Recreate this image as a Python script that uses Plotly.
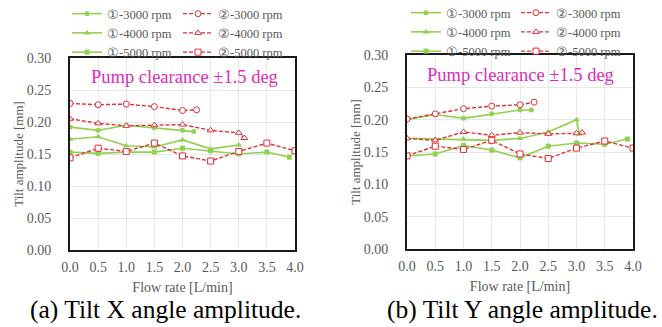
import plotly.graph_objects as go

# ---------------- data ----------------
flow_full = [0.0, 0.5, 1.0, 1.5, 2.0, 2.5, 3.0, 3.5, 4.0]
x_tick_labels = ["0.0", "0.5", "1.0", "1.5", "2.0", "2.5", "3.0", "3.5", "4.0"]
y_tick_vals = [0.00, 0.05, 0.10, 0.15, 0.20, 0.25, 0.30]
y_tick_labels = ["0.00", "0.05", "0.10", "0.15", "0.20", "0.25", "0.30"]

# (a) Tilt X
xa_g3000_flow = [0.0, 0.5, 1.0, 1.5, 2.0, 2.2]
xa_g3000 = [0.192, 0.187, 0.195, 0.191, 0.187, 0.185]
xa_g4000_flow = [0.0, 0.5, 1.0, 1.5, 2.0, 2.5, 3.0]
xa_g4000 = [0.173, 0.177, 0.163, 0.161, 0.172, 0.158, 0.164]
xa_g5000_flow = [0.0, 0.5, 1.0, 1.5, 2.0, 2.5, 3.0, 3.5, 3.9]
xa_g5000 = [0.153, 0.151, 0.153, 0.153, 0.159, 0.155, 0.150, 0.153, 0.145]
xa_r3000_flow = [0.0, 0.5, 1.0, 1.5, 2.0, 2.25]
xa_r3000 = [0.229, 0.227, 0.228, 0.224, 0.218, 0.219]
xa_r4000_flow = [0.0, 0.5, 1.0, 1.5, 2.0, 2.5, 3.0, 3.1]
xa_r4000 = [0.205, 0.198, 0.194, 0.195, 0.196, 0.187, 0.183, 0.175]
xa_r5000_flow = flow_full
xa_r5000 = [0.144, 0.159, 0.154, 0.167, 0.147, 0.139, 0.154, 0.167, 0.155]

# (b) Tilt Y
yb_g3000_flow = [0.0, 0.5, 1.0, 1.5, 2.0, 2.2]
yb_g3000 = [0.200, 0.208, 0.202, 0.209, 0.215, 0.215]
yb_g4000_flow = [0.0, 0.5, 1.0, 1.5, 2.0, 2.5, 3.0, 3.05]
yb_g4000 = [0.171, 0.170, 0.170, 0.168, 0.171, 0.181, 0.200, 0.178]
yb_g5000_flow = [0.0, 0.5, 1.0, 1.5, 2.0, 2.5, 3.0, 3.5, 3.9]
yb_g5000 = [0.144, 0.147, 0.160, 0.153, 0.141, 0.159, 0.164, 0.162, 0.170]
yb_r3000_flow = [0.0, 0.5, 1.0, 1.5, 2.0, 2.25]
yb_r3000 = [0.201, 0.209, 0.217, 0.221, 0.223, 0.227]
yb_r4000_flow = [0.0, 0.5, 1.0, 1.5, 2.0, 2.5, 3.0, 3.1]
yb_r4000 = [0.171, 0.168, 0.181, 0.176, 0.180, 0.178, 0.179, 0.180]
yb_r5000_flow = flow_full
yb_r5000 = [0.144, 0.159, 0.154, 0.168, 0.147, 0.140, 0.156, 0.167, 0.156]

names_g = ["①-3000 rpm", "①-4000 rpm", "①-5000 rpm"]
names_r = ["②-3000 rpm", "②-4000 rpm", "②-5000 rpm"]

# ---------------- style ----------------
GREEN = "#92d050"
RED = "#e03038"
GRAY = "#595959"
FONT = "Liberation Serif"
g_symbols = ["circle", "triangle-up", "square"]
r_symbols = ["circle", "triangle-up", "square"]

fig = go.Figure()


def add_panel(xref, yref, g_data, r_data, leg_g, leg_r):
    for (fx, vals), nm, sym in zip(g_data, names_g, g_symbols):
        fig.add_trace(go.Scatter(
            x=fx, y=vals, name=nm, mode="lines+markers",
            line=dict(color=GREEN, width=1.6),
            marker=dict(symbol=sym, size=5 if sym != "triangle-up" else 6, color=GREEN),
            xaxis=xref, yaxis=yref, legend=leg_g))
    for (fx, vals), nm, sym in zip(r_data, names_r, r_symbols):
        fig.add_trace(go.Scatter(
            x=fx, y=vals, name=nm, mode="lines+markers",
            line=dict(color=RED, width=1.4, dash="4px,2px"),
            marker=dict(symbol=sym, size=6, color="white", line=dict(color=RED, width=1)),
            xaxis=xref, yaxis=yref, legend=leg_r))


add_panel("x", "y",
          [(xa_g3000_flow, xa_g3000), (xa_g4000_flow, xa_g4000), (xa_g5000_flow, xa_g5000)],
          [(xa_r3000_flow, xa_r3000), (xa_r4000_flow, xa_r4000), (xa_r5000_flow, xa_r5000)],
          "legend", "legend2")
add_panel("x2", "y2",
          [(yb_g3000_flow, yb_g3000), (yb_g4000_flow, yb_g4000), (yb_g5000_flow, yb_g5000)],
          [(yb_r3000_flow, yb_r3000), (yb_r4000_flow, yb_r4000), (yb_r5000_flow, yb_r5000)],
          "legend3", "legend4")

W, H = 662, 327

axis_common = dict(showline=True, mirror=True, linecolor="#1a1a1a", linewidth=2,
                   showgrid=True, gridcolor="#e8e8e8", gridwidth=1, zeroline=False,
                   tickfont=dict(family=FONT, size=14, color=GRAY))

xaxis_common = dict(axis_common, range=[0, 4], tickvals=flow_full, ticktext=x_tick_labels,
                    ticks="outside", tickcolor="rgba(0,0,0,0)", ticklen=3,
                    title=dict(text="Flow rate [L/min]", font=dict(family=FONT, size=14, color=GRAY),
                               standoff=8))
yaxis_common = dict(axis_common, range=[0, 0.30], tickvals=y_tick_vals, ticktext=y_tick_labels,
                    ticks="outside", tickcolor="rgba(0,0,0,0)", ticklen=14,
                    title=dict(text="Tilt amplitude [mm]", font=dict(family=FONT, size=13, color=GRAY),
                               standoff=0))

legend_common = dict(bgcolor="rgba(0,0,0,0)", font=dict(family=FONT, size=12.5, color=GRAY),
                     itemwidth=30, tracegroupgap=0, xanchor="left", yanchor="top",
                     orientation="v")

fig.update_layout(
    width=W, height=H,
    margin=dict(l=0, r=0, t=0, b=0, autoexpand=False),
    paper_bgcolor="white", plot_bgcolor="white",
    xaxis=dict(xaxis_common, domain=[70 / W, 295 / W], anchor="y"),
    yaxis=dict(yaxis_common, domain=[(H - 250) / H, (H - 58) / H], anchor="x"),
    xaxis2=dict(xaxis_common, domain=[407 / W, 633 / W], anchor="y2"),
    yaxis2=dict(yaxis_common, domain=[(H - 249) / H, (H - 55) / H], anchor="x2"),
    legend=dict(legend_common, x=67 / W, y=1 + 1 / H),
    legend2=dict(legend_common, x=178 / W, y=1 + 1 / H),
    legend3=dict(legend_common, x=406 / W, y=1 + 2 / H),
    legend4=dict(legend_common, x=516 / W, y=1 + 2 / H),
    showlegend=True,
    annotations=[
        dict(text="Pump clearance ±1.5 deg", xref="paper", yref="paper", x=184 / W, y=1 - 77 / H,
             xanchor="center", yanchor="middle",
             showarrow=False, font=dict(family=FONT, size=18.5, color="#e02cb8")),
        dict(text="Pump clearance ±1.5 deg", xref="paper", yref="paper", x=520 / W, y=1 - 75 / H,
             xanchor="center", yanchor="middle",
             showarrow=False, font=dict(family=FONT, size=18.5, color="#e02cb8")),
        dict(text="(a) Tilt X angle amplitude.", xref="paper", yref="paper", x=165 / W, y=1 - 309 / H,
             xanchor="center", yanchor="middle",
             showarrow=False, font=dict(family=FONT, size=25.5, color="black")),
        dict(text="(b) Tilt Y angle amplitude.", xref="paper", yref="paper", x=522 / W, y=1 - 309 / H,
             xanchor="center", yanchor="middle",
             showarrow=False, font=dict(family=FONT, size=25.5, color="black")),
    ],
)

fig.write_html("out.html", config={"displayModeBar": False},
               post_script="document.body.style.margin='0px';document.body.style.overflow='hidden';")
